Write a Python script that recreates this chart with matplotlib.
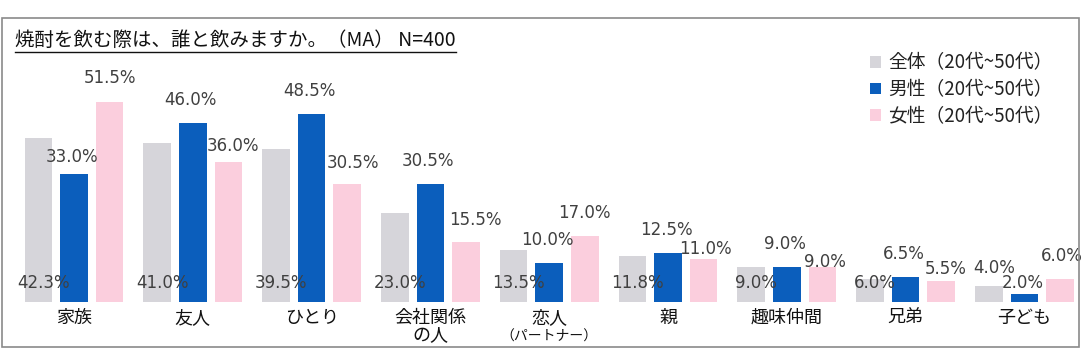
import matplotlib
matplotlib.use("Agg")
import matplotlib.pyplot as plt
from matplotlib.patches import Patch, Rectangle
from matplotlib.lines import Line2D
import numpy as np

plt.rcParams['font.family'] = ['Noto Sans CJK JP', 'DejaVu Sans']

# ---- data ----
categories = ["家族", "友人", "ひとり", "会社関係\nの人", "恋人", "親", "趣味仲間", "兄弟", "子ども"]
total = [42.3, 41.0, 39.5, 23.0, 13.5, 11.8, 9.0, 6.0, 4.0]
male = [33.0, 46.0, 48.5, 30.5, 10.0, 12.5, 9.0, 6.5, 2.0]
female = [51.5, 36.0, 30.5, 15.5, 17.0, 11.0, 9.0, 5.5, 6.0]
series_names = ["全体（20代~50代）", "男性（20代~50代）", "女性（20代~50代）"]
title = "焼酎を飲む際は、誰と飲みますか。（MA） N=400"

# ---- layout / style ----
W, H = 1084, 360
colors = ["#D6D5DA", "#0B5EBC", "#FBCEDD"]
text_col = "#404040"
bar_w = 0.233
offs = [-0.30, 0.0, 0.30]
# label vertical offsets (pixels above bar top) for male / female series
male_dy = [17, 23, 23, 23, 23, 23, 23, 23, 11]
female_dy = [24, 16, 21, 22, 23, 10, 5, 12, 23]
female_dx = [0, 4, 6, 9, 0, 2, 2, 4, 2]
grey_y_px = [19, 19, 19, 19, 19, 19, 19, 19, 34]  # label centre above baseline

fig = plt.figure(figsize=(W / 100, H / 100), dpi=100)
fig.patch.set_facecolor("white")

# frame
fig.add_artist(Rectangle((1.5 / W, (H - 347) / H), (1079 - 1.5) / W, (347 - 18) / H,
                         transform=fig.transFigure, fill=False, edgecolor="#8a8a8a", lw=1.2))

step = 118.8
left_px = 74 - 0.5 * step
ax = fig.add_axes([left_px / W, (H - 302) / H, 9 * step / W, 60 * 3.885 / H])
ax.set_xlim(-0.5, 8.5)
ax.set_ylim(0, 60)
ax.axis("off")

x = np.arange(len(categories))
fs_val = 12
val_font = ['DejaVu Sans']
for s, (vals, col, off) in enumerate(zip([total, male, female], colors, offs)):
    ax.bar(x + off, vals, width=bar_w, color=col, label=series_names[s], zorder=2)

for i in range(len(categories)):
    ax.annotate(f"{total[i]:.1f}%", (x[i] + offs[0], 0), xytext=(5, grey_y_px[i]),
                textcoords="offset pixels", ha="center", va="center", family=val_font,
                fontsize=fs_val, color=text_col, annotation_clip=False, zorder=3)
    ax.annotate(f"{male[i]:.1f}%", (x[i] + offs[1], male[i]), xytext=(-2, male_dy[i]),
                textcoords="offset pixels", ha="center", va="center", family=val_font,
                fontsize=fs_val, color=text_col, annotation_clip=False, zorder=3)
    ax.annotate(f"{female[i]:.1f}%", (x[i] + offs[2], female[i]), xytext=(female_dx[i], female_dy[i]),
                textcoords="offset pixels", ha="center", va="center", family=val_font,
                fontsize=fs_val, color=text_col, annotation_clip=False, zorder=3)

# category labels
for i, c in enumerate(categories):
    ax.annotate(c, (x[i], 0), xytext=(0, -7), textcoords="offset pixels",
                ha="center", va="top", fontsize=13, color="#111111",
                linespacing=0.95, annotation_clip=False)
ax.annotate("（パートナー）", (x[4], 0), xytext=(0, -28), textcoords="offset pixels",
            ha="center", va="top", fontsize=10, color="#111111", annotation_clip=False)

# title with underline
t = fig.text(15 / W, (H - 40) / H, title, ha="left", va="center", fontsize=14, color="#111111")
fig.canvas.draw()
bb = t.get_window_extent()
fig.add_artist(Line2D([bb.x0 / W, bb.x1 / W], [(H - 52) / H, (H - 52) / H],
                      transform=fig.transFigure, color="#111111", lw=1.0))

# legend
handles = [Patch(facecolor=c, edgecolor="none") for c in colors]
fig.legend(handles, series_names, loc="upper left", bbox_to_anchor=(862 / W, (H - 45) / H),
           frameon=False, fontsize=13.5, handlelength=0.6, handleheight=0.6,
           handletextpad=0.4, labelspacing=0.3, labelcolor="#222222", borderaxespad=0)

fig.savefig("out.png", dpi=100, facecolor="white")
